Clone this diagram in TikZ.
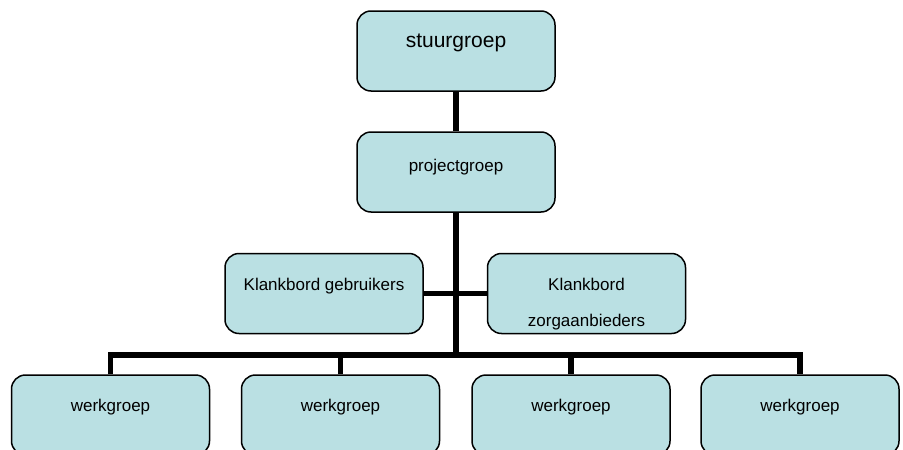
\documentclass[tikz,border=0pt]{standalone}
\usepackage{fontspec}
\setmainfont{Liberation Sans}
\definecolor{groepvulling}{RGB}{186,224,227}
\tikzset{
	groep/.style={draw, line width=1.5pt, fill=groepvulling, rounded corners=14pt,
		minimum width=198pt, minimum height=80pt, inner sep=0pt,
		font=\fontsize{17}{20.4}\selectfont, text height=12pt, text depth=19pt},
	lijn/.style={line width=5.5pt}
}
\begin{document}
\begin{tikzpicture}[x=1pt, y=-1pt]
	\useasboundingbox (0, 0) rectangle (903, 450);
	\clip (0, 0) rectangle (903, 450);
	\node[groep, font=\fontsize{21}{25}\selectfont] (stuurgroep) at (456, 51) {stuurgroep};
	\node[groep, text depth=13pt] (projectgroep) at (456, 172) {projectgroep};
	\node[groep, text depth=17.6pt] (gebruikers) at (324, 293.5) {Klankbord gebruikers};
	\node[groep, text depth=17.6pt] (zorg) at (586.5, 293.5) {\begin{tabular}[t]{@{}c@{}}Klankbord\\[15.6pt]zorgaanbieders\end{tabular}};
	\foreach \naam/\x in {werk1/110.5, werk2/340.5, werk3/571, werk4/800}
		\node[groep] (\naam) at (\x, 415) {werkgroep};
	\coordinate (balk) at (456, 355);
	\draw[lijn] (stuurgroep.south) -- (projectgroep.north);
	\draw[lijn] (projectgroep.south) -- (balk);
	\draw[lijn] (gebruikers.east) -- (zorg.west);
	\draw[lijn] (werk1.north) -- (werk1.north |- balk) -- (werk4.north |- balk) -- (werk4.north);
	\draw[lijn] (werk2.north) -- (werk2.north |- balk);
	\draw[lijn] (werk3.north) -- (werk3.north |- balk);
\end{tikzpicture}
\end{document}
